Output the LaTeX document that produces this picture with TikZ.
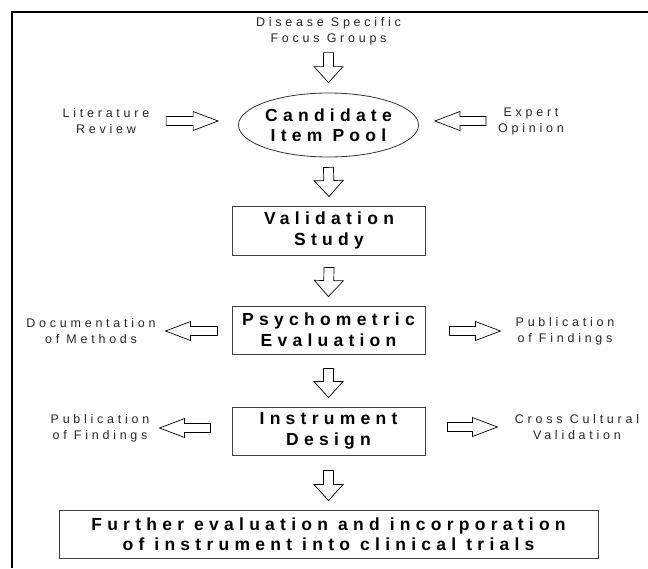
\documentclass[tikz,border=0pt]{standalone}
\usepackage{fontspec}
\setmainfont{Liberation Sans}[LetterSpace=30]
\usetikzlibrary{calc,shapes.geometric}
\tikzset{
  sidetext/.style={align=center, font=\fontsize{12.5}{16}\selectfont, inner sep=0pt, text=black!85},
  boxnode/.style={draw=black!75, line width=0.9pt, align=center,
    font=\fontsize{17.5}{21}\selectfont\bfseries, minimum width=193pt,
    minimum height=48pt, inner sep=0pt},
  barrow/.style={draw=black, fill=white, line width=0.7pt, line join=miter},
  frameline/.style={draw=black, line width=2pt},
}
\newcommand\blockarrow[5]{%
  \path let \p1=(#1), \p2=(#2) in \pgfextra{%
    \pgfmathsetmacro\baLtmp{veclen(\x2-\x1,\y2-\y1)}%
    \pgfmathsetmacro\baAtmp{atan2(\y2-\y1,\x2-\x1)}%
    \xdef\baL{\baLtmp}\xdef\baA{\baAtmp}\xdef\baX{\x1}\xdef\baY{\y1}};
  \begin{scope}[shift={(\baX,\baY)}, rotate=\baA]
    \draw[barrow] (0pt,#3pt) -- ({(\baL-#5)*1pt},#3pt) -- ({(\baL-#5)*1pt},#4pt)
      -- ({\baL*1pt},0pt) -- ({(\baL-#5)*1pt},-#4pt) -- ({(\baL-#5)*1pt},-#3pt)
      -- (0pt,-#3pt) -- cycle;
  \end{scope}}
\begin{document}
\begin{tikzpicture}[x=1pt,y=-1pt]
\useasboundingbox (0,0) rectangle (648,568);
\coordinate (fbl) at (12,568);
\coordinate (ftl) at (12,12);
\coordinate (ftr) at (648,12);
\draw[frameline] (fbl) -- (ftl) -- (ftr);

\node[sidetext] (fg) at (328.5,31) {Disease Specific\\Focus Groups};
\node[ellipse, draw=black!80, line width=0.8pt, minimum width=180pt, minimum height=64pt,
  inner sep=0pt, align=center, font=\fontsize{17.5}{20}\selectfont\bfseries]
  (pool) at (328.5,125) {Candidate\\Item Pool};
\node[sidetext] (lit) at (106,121) {Literature\\Review};
\node[sidetext] (exp) at (531,121) {Expert\\Opinion};

\node[boxnode, minimum height=49pt] (val) at (329,230.5) {Validation\\Study};
\node[boxnode] (psy) at (328.5,330) {Psychometric\\Evaluation};
\node[sidetext] (doc) at (91,331) {Documentation\\of Methods};
\node[sidetext] (pubA) at (565,331) {Publication\\of Findings};

\node[boxnode] (ins) at (328.5,431) {Instrument\\Design};
\node[sidetext] (pubB) at (100,428) {Publication\\of Findings};
\node[sidetext] (ccv) at (577,427) {Cross Cultural\\Validation};

\node[boxnode, minimum width=539pt, font=\fontsize{17.5}{20}\selectfont\bfseries]
  (fur) at (328.5,534) {Further evaluation and incorporation\\of instrument into clinical trials};

% vertical block arrows
\blockarrow{$(pool.north)+(0,-40)$}{$(pool.north)+(0,-10)$}{5}{14.5}{16}
\blockarrow{$(pool.south)+(0,10)$}{$(val.north)+(0,-9)$}{5}{14.5}{16}
\blockarrow{$(val.south)+(0,12)$}{$(psy.north)+(0,-9)$}{5}{14.5}{16}
\blockarrow{$(psy.south)+(0,14)$}{$(ins.north)+(0,-9)$}{5}{14.5}{16}
\blockarrow{$(ins.south)+(0,15)$}{$(fur.north)+(0,-9)$}{5}{14.5}{16}

% horizontal block arrows
\blockarrow{$(lit.east -| pool.west)+(-72,0)$}{$(lit.east -| pool.west)+(-20,0)$}{4.5}{9.5}{25}
\blockarrow{$(exp.west -| pool.east)+(67,0)$}{$(exp.west -| pool.east)+(16,0)$}{4.5}{9.5}{25}
\blockarrow{$(doc.east -| psy.west)+(-14,0)$}{$(doc.east -| psy.west)+(-66,0)$}{4.5}{9.5}{25}
\blockarrow{$(pubA.west -| psy.east)+(24,0)$}{$(pubA.west -| psy.east)+(75,0)$}{4.5}{9.5}{25}
\blockarrow{$(pubB.east -| ins.west)+(-21,0)$}{$(pubB.east -| ins.west)+(-72,0)$}{4.5}{9.5}{25}
\blockarrow{$(ccv.west -| ins.east)+(22,0)$}{$(ccv.west -| ins.east)+(72,0)$}{4.5}{9.5}{25}
\end{tikzpicture}
\end{document}
